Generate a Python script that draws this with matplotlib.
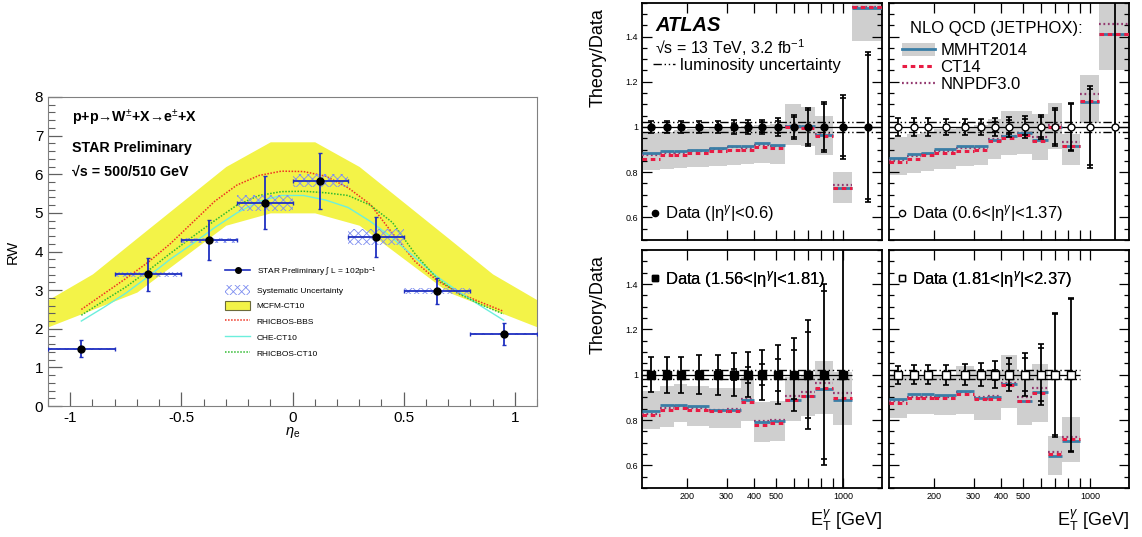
import numpy as np
import matplotlib
matplotlib.use('Agg')
import matplotlib.pyplot as plt
from matplotlib.lines import Line2D
from matplotlib.patches import Patch
from matplotlib.ticker import MultipleLocator, FixedLocator, FixedFormatter, FormatStrFormatter

plt.rcParams['font.family'] = ['Liberation Sans', 'DejaVu Sans']
plt.rcParams['mathtext.fontset'] = 'custom'
plt.rcParams['mathtext.rm'] = 'Liberation Sans'
plt.rcParams['mathtext.it'] = 'Liberation Sans:italic'
plt.rcParams['mathtext.bf'] = 'Liberation Sans:bold'
plt.rcParams['hatch.linewidth'] = 0.6

# ---------------- STAR W ratio (left) ----------------
eta = np.array([-0.95, -0.65, -0.375, -0.125, 0.125, 0.375, 0.65, 0.95])
eta_lo = np.array([-1.1, -0.8, -0.5, -0.25, 0.0, 0.25, 0.5, 0.8])
eta_hi = np.array([-0.8, -0.5, -0.25, 0.0, 0.25, 0.5, 0.8, 1.1])
rw = np.array([1.48, 3.41, 4.29, 5.26, 5.83, 4.37, 2.98, 1.86])
rw_stat = np.array([0.22, 0.42, 0.52, 0.69, 0.72, 0.52, 0.34, 0.28])
rw_sys = np.array([0.03, 0.065, 0.065, 0.21, 0.17, 0.20, 0.08, 0.03])

# MCFM-CT10 band
eta_band = [-1.1, -0.9, -0.7, -0.3, -0.1, 0.1, 0.3, 0.7, 0.9, 1.1]
mcfm_hi = [2.75, 3.42, 4.35, 6.2, 6.84, 6.84, 6.2, 4.35, 3.42, 2.75]
mcfm_lo = [2.05, 2.5, 2.95, 4.68, 5.0, 5.0, 4.68, 2.95, 2.5, 2.05]

# theory curves
eta_th = [-0.95, -0.85, -0.75, -0.65, -0.55, -0.45, -0.35, -0.25, -0.15, -0.05,
          0.05, 0.15, 0.25, 0.35, 0.45, 0.55, 0.65, 0.75, 0.85, 0.95]
rhicbos_bbs = [2.50, 2.90, 3.30, 3.72, 4.20, 4.75, 5.30, 5.72, 5.97, 6.08,
               6.07, 5.95, 5.65, 5.22, 4.47, 3.75, 3.25, 2.92, 2.68, 2.45]
che_ct10 = [2.20, 2.55, 2.92, 3.35, 3.80, 4.20, 4.62, 5.00, 5.30, 5.45,
            5.45, 5.33, 5.14, 4.78, 4.35, 3.85, 3.35, 2.95, 2.58, 2.22]
rhicbos_ct10 = [2.35, 2.72, 3.08, 3.50, 3.95, 4.38, 4.80, 5.20, 5.45, 5.55,
                5.56, 5.52, 5.45, 5.20, 4.75, 3.95, 3.30, 2.90, 2.62, 2.38]

# ---------------- ATLAS photon ratios (right) ----------------
et_edges = np.array([125, 150, 175, 200, 250, 300, 350, 400, 470, 550, 650, 750, 900, 1100, 1500])
et_mid = np.array([137.5, 162.5, 187.5, 225, 275, 325, 375, 435, 510, 600, 700, 825, 1000, 1300])

mmht_1 = [0.886, 0.896, 0.893, 0.900, 0.909, 0.917, 0.914, 0.928, 0.919, 1.006, 1.003, 0.963, 0.731, 1.525]
ct14_1 = [0.860, 0.877, 0.877, 0.884, 0.894, 0.900, 0.897, 0.911, 0.906, 0.999, 0.996, 0.962, 0.731, 1.532]
nnpdf_1 = [0.876, 0.886, 0.884, 0.892, 0.902, 0.910, 0.906, 0.921, 0.914, 1.004, 1.000, 0.968, 0.745, 1.532]
band_lo_1 = [0.808, 0.815, 0.818, 0.822, 0.826, 0.832, 0.836, 0.840, 0.835, 0.922, 0.918, 0.877, 0.662, 1.38]
band_hi_1 = [0.975, 0.980, 0.985, 0.990, 0.995, 1.000, 1.005, 1.010, 1.015, 1.100, 1.090, 1.050, 0.800, 1.60]
err_1 = [0.026, 0.026, 0.026, 0.026, 0.027, 0.030, 0.030, 0.033, 0.040, 0.055, 0.084, 0.110, 0.140, 0.330]
stat_1 = [0.005, 0.006, 0.007, 0.008, 0.010, 0.014, 0.016, 0.022, 0.028, 0.045, 0.075, 0.100, 0.130, 0.320]

mmht_2 = [0.864, 0.879, 0.886, 0.904, 0.915, 0.918, 0.943, 0.962, 0.974, 0.944, 1.001, 0.918, 1.111, 1.412]
ct14_2 = [0.845, 0.860, 0.874, 0.886, 0.893, 0.899, 0.937, 0.950, 0.965, 0.937, 0.998, 0.918, 1.115, 1.410]
nnpdf_2 = [0.855, 0.870, 0.880, 0.895, 0.905, 0.908, 0.945, 0.958, 0.975, 0.955, 1.010, 0.935, 1.145, 1.456]
band_lo_2 = [0.786, 0.797, 0.804, 0.816, 0.828, 0.834, 0.860, 0.877, 0.882, 0.852, 0.904, 0.830, 1.018, 1.251]
band_hi_2 = [0.955, 0.969, 0.977, 0.991, 1.000, 1.008, 1.035, 1.070, 1.070, 1.057, 1.104, 0.970, 1.228, 1.60]
err_2 = [0.042, 0.038, 0.038, 0.036, 0.036, 0.035, 0.040, 0.045, 0.050, 0.055, 0.082, 0.106, 0.180, 0.700]
stat_2 = [0.005, 0.006, 0.008, 0.010, 0.012, 0.015, 0.022, 0.030, 0.036, 0.045, 0.075, 0.100, 0.170, 0.700]

mmht_3 = [0.838, 0.865, 0.868, 0.861, 0.846, 0.846, 0.887, 0.790, 0.794, 0.890, 0.907, 0.938, 0.890]
ct14_3 = [0.820, 0.846, 0.853, 0.846, 0.838, 0.841, 0.878, 0.780, 0.787, 0.887, 0.907, 0.940, 0.897]
nnpdf_3 = [0.826, 0.852, 0.860, 0.852, 0.845, 0.848, 0.893, 0.796, 0.800, 0.905, 0.925, 0.963, 0.917]
band_lo_3 = [0.761, 0.769, 0.789, 0.775, 0.764, 0.764, 0.794, 0.703, 0.706, 0.795, 0.816, 0.827, 0.780]
band_hi_3 = [0.926, 0.948, 0.960, 0.948, 0.941, 0.941, 0.988, 0.878, 0.883, 0.990, 1.000, 1.060, 1.012]
err_3 = [0.078, 0.080, 0.080, 0.085, 0.088, 0.095, 0.100, 0.110, 0.130, 0.160, 0.240, 0.400, 0.800]
stat_3 = [0.010, 0.010, 0.012, 0.015, 0.020, 0.025, 0.035, 0.045, 0.070, 0.107, 0.190, 0.370, 0.800]

mmht_4 = [0.893, 0.916, 0.914, 0.909, 0.927, 0.897, 0.900, 0.960, 0.885, 0.922, 0.640, 0.709]
ct14_4 = [0.875, 0.897, 0.897, 0.897, 0.916, 0.893, 0.894, 0.956, 0.882, 0.919, 0.648, 0.714]
nnpdf_4 = [0.882, 0.902, 0.900, 0.902, 0.922, 0.900, 0.905, 0.962, 0.902, 0.941, 0.658, 0.725]
band_lo_4 = [0.809, 0.828, 0.828, 0.820, 0.828, 0.802, 0.799, 0.853, 0.780, 0.790, 0.559, 0.614]
band_hi_4 = [0.995, 0.995, 0.995, 0.995, 1.040, 1.022, 1.019, 1.088, 1.015, 1.048, 0.728, 0.812]
err_4 = [0.040, 0.042, 0.042, 0.044, 0.046, 0.051, 0.060, 0.073, 0.095, 0.135, 0.273, 0.340]
stat_4 = [0.005, 0.006, 0.008, 0.010, 0.012, 0.020, 0.022, 0.047, 0.073, 0.117, 0.268, 0.335]

eta_ranges = [r'|η$^{\gamma}$|<0.6', r'0.6<|η$^{\gamma}$|<1.37',
              r'1.56<|η$^{\gamma}$|<1.81', r'1.81<|η$^{\gamma}$|<2.37']
lumi_unc = 0.021

yellow = '#f3f348'
c_mmht = '#3a7ea6'
c_ct14 = '#e81c44'
c_nnpdf = '#93386f'
c_band = '#cfcfcf'

fig = plt.figure(figsize=(11.42, 5.37), dpi=100)

# ===== left panel =====
ax = fig.add_axes([48 / 1142, 1 - 406 / 537, 489 / 1142, 309 / 537])
ax.fill_between(eta_band, mcfm_lo, mcfm_hi, color=yellow, lw=0, zorder=1)
ax.plot(eta_th, rhicbos_bbs, color='#ee3322', ls=(0, (1, 1)), lw=1.1, zorder=3)
ax.plot(eta_th, che_ct10, color='#6cefdc', lw=1.0, zorder=3)
ax.plot(eta_th, rhicbos_ct10, color='#2fba2f', ls=(0, (1, 1)), lw=1.1, zorder=3)
ax.bar(eta_lo, 2 * rw_sys, bottom=rw - rw_sys, width=eta_hi - eta_lo, align='edge',
       facecolor='none', edgecolor='#7f8ff0', hatch='xxxx', lw=0, zorder=4)
ax.errorbar(eta, rw, xerr=[eta - eta_lo, eta_hi - eta], yerr=rw_stat, fmt='o', color='#1f2fc0',
            mfc='k', mec='k', ms=5, elinewidth=1.3, capsize=1.5, zorder=5)
ax.set_xlim(-1.1, 1.1)
ax.set_ylim(0, 8)
ax.xaxis.set_major_locator(MultipleLocator(0.5))
ax.xaxis.set_minor_locator(MultipleLocator(0.1))
ax.yaxis.set_major_locator(MultipleLocator(1))
ax.yaxis.set_minor_locator(MultipleLocator(0.2))
ax.xaxis.set_major_formatter(FormatStrFormatter('%g'))
ax.tick_params(which='both', direction='in', colors='#606060', labelcolor='k', labelsize=11)
ax.tick_params(which='major', length=10, width=0.9)
ax.tick_params(which='minor', length=5, width=0.8)
for s in ax.spines.values():
    s.set_color('#808080')
ax.set_ylabel('RW', fontsize=10.5)
ax.yaxis.set_label_coords(-0.058, 0.5)
ax.set_xlabel(r'$\eta_{\rm e}$', fontsize=10.5)
ax.xaxis.set_label_coords(0.5, -0.06)
ax.text(0.049, 0.932, 'p+p→W$^{\\pm}$+X→e$^{\\pm}$+X', transform=ax.transAxes,
        fontsize=10.3, weight='bold', va='center')
ax.text(0.049, 0.835, 'STAR Preliminary', transform=ax.transAxes, fontsize=10.3, weight='bold',
        va='center')
ax.text(0.049, 0.757, '√s = 500/510 GeV', transform=ax.transAxes, fontsize=10.3,
        weight='bold', va='center')
star_handles = [
    Line2D([], [], color='#1f2fc0', marker='o', mfc='k', mec='k', ms=4, lw=1.2),
    Patch(facecolor='none', edgecolor='#7f8ff0', hatch='xxxx', lw=0),
    Patch(facecolor=yellow, edgecolor='#6b6b3a', lw=0.8),
    Line2D([], [], color='#ee3322', ls=(0, (1, 1)), lw=1.1),
    Line2D([], [], color='#6cefdc', lw=1.0),
    Line2D([], [], color='#2fba2f', ls=(0, (1, 1)), lw=1.1),
]
star_labels = [r'STAR Preliminary $\int$ L = 102pb$^{-1}$', 'Systematic Uncertainty', 'MCFM-CT10',
               'RHICBOS-BBS', 'CHE-CT10', 'RHICBOS-CT10']
ax.legend(star_handles, star_labels, loc='upper left', bbox_to_anchor=(0.362, 0.455), frameon=False,
          fontsize=6, handlelength=3.0, handleheight=1.4, labelspacing=0.75, borderpad=0,
          borderaxespad=0, handletextpad=0.8)

# ===== ATLAS panels =====
panels = [
    (mmht_1, ct14_1, nnpdf_1, band_lo_1, band_hi_1, err_1, stat_1, 'o', 'k'),
    (mmht_2, ct14_2, nnpdf_2, band_lo_2, band_hi_2, err_2, stat_2, 'o', 'w'),
    (mmht_3, ct14_3, nnpdf_3, band_lo_3, band_hi_3, err_3, stat_3, 's', 'k'),
    (mmht_4, ct14_4, nnpdf_4, band_lo_4, band_hi_4, err_4, stat_4, 's', 'w'),
]
rects = [[642 / 1142, 1 - 240 / 537, 240 / 1142, 237.3 / 537],
         [889 / 1142, 1 - 240 / 537, 240 / 1142, 237.3 / 537],
         [642 / 1142, 1 - 488 / 537, 240 / 1142, 238 / 537],
         [889 / 1142, 1 - 488 / 537, 240 / 1142, 238 / 537]]
lumi_style = (0, (6, 2, 1, 2, 1, 2))

for i, (mm, ct, nn, blo, bhi, err, stat, mk, mfc) in enumerate(panels):
    a = fig.add_axes(rects[i])
    n = len(mm)
    lo_e = et_edges[:n]
    hi_e = et_edges[1:n + 1]
    a.bar(lo_e, np.array(bhi) - np.array(blo), bottom=blo, width=hi_e - lo_e, align='edge',
          color=c_band, lw=0, zorder=1)
    xmax = et_edges[n]
    a.hlines(1.0, 125, xmax, color='k', lw=0.9, zorder=2)
    a.hlines([1 - lumi_unc, 1 + lumi_unc], 125, xmax, color='k', lw=1.0, linestyles=[lumi_style], zorder=2)
    a.hlines(nn, lo_e, hi_e, color=c_nnpdf, lw=1.6, linestyles=[(0, (0.8, 1.2))], zorder=3)
    a.hlines(mm, lo_e, hi_e, color=c_mmht, lw=2.0, zorder=4)
    a.hlines(ct, lo_e, hi_e, color=c_ct14, lw=2.2, linestyles=[(0, (1.5, 1.2))], zorder=5)
    ratio = np.ones(n)
    a.errorbar(et_mid[:n], ratio, yerr=err, fmt='none', ecolor='k', elinewidth=1.3, capsize=2.5,
               capthick=1.2, zorder=6)
    a.errorbar(et_mid[:n], ratio, yerr=stat, fmt='none', ecolor='k', elinewidth=0, capsize=2.5,
               capthick=1.2, zorder=6)
    a.plot(et_mid[:n], ratio, ls='none', marker=mk, ms=5.5 if mk == 's' else 5, mfc=mfc, mec='k',
           mew=1.0, zorder=7)

    a.set_xscale('log')
    a.set_xlim(125, 1500)
    a.set_ylim(0.5, 1.55)
    a.xaxis.set_major_locator(FixedLocator([200, 300, 400, 500, 600, 700, 800, 900, 1000]))
    a.xaxis.set_major_formatter(FixedFormatter(['200', '300', '400', '500', '', '', '', '', '1000']))
    a.xaxis.set_minor_locator(FixedLocator([]))
    a.yaxis.set_major_locator(MultipleLocator(0.2))
    a.yaxis.set_minor_locator(MultipleLocator(0.05))
    a.yaxis.set_major_formatter(FormatStrFormatter('%g'))
    a.tick_params(which='both', direction='in', top=True, right=True, labelsize=6.5, pad=3, width=0.9)
    a.tick_params(which='major', length=7)
    a.tick_params(which='minor', length=3.5)
    for s in a.spines.values():
        s.set_linewidth(1.3)
    if i % 2 == 1:
        a.tick_params(labelleft=False)
    if i < 2:
        a.tick_params(labelbottom=False)
    else:
        a.set_xlabel(r'E$_{\rm T}^{\gamma}$ [GeV]', fontsize=13, loc='right')
        a.xaxis.set_label_coords(1.0, -0.085)
    if i % 2 == 0:
        a.set_ylabel('Theory/Data', fontsize=13)
        a.yaxis.set_label_coords(-0.146, 0.77)

    dleg = a.legend([Line2D([], [], ls='none', marker=mk, ms=4.5, mfc=mfc, mec='k')],
                    ['Data (' + eta_ranges[i] + ')'], loc='center left',
                    bbox_to_anchor=(0.035, 0.11 if i < 2 else 0.878), frameon=False, fontsize=12,
                    handlelength=0.6, handletextpad=0.3, borderpad=0, borderaxespad=0)
    a.add_artist(dleg)

    if i == 0:
        a.text(0.054, 0.906, 'ATLAS', transform=a.transAxes, fontsize=14.5, weight='bold',
               style='italic', va='center')
        a.text(0.054, 0.812, '√s = 13 TeV, 3.2 fb$^{-1}$', transform=a.transAxes, fontsize=11.5,
               va='center')
        a.legend([Line2D([], [], color='k', ls=lumi_style, lw=1.0)], ['luminosity uncertainty'],
                 loc='center left', bbox_to_anchor=(0.046, 0.734), frameon=False, fontsize=12,
                 handlelength=1.3, handletextpad=0.3, borderpad=0, borderaxespad=0)
    if i == 1:
        a.text(0.0875, 0.893, 'NLO QCD (JETPHOX):', transform=a.transAxes, fontsize=12, va='center')
        th_handles = [(Patch(facecolor=c_band, lw=0), Line2D([], [], color=c_mmht, lw=2.0)),
                      Line2D([], [], color=c_ct14, lw=2.2, ls=(0, (1.5, 1.2))),
                      Line2D([], [], color=c_nnpdf, lw=1.6, ls=(0, (0.8, 1.2)))]
        a.legend(th_handles, ['MMHT2014', 'CT14', 'NNPDF3.0'], loc='center left',
                 bbox_to_anchor=(0.054, 0.726), frameon=False, fontsize=12, handlelength=2.0,
                 handleheight=0.8, labelspacing=0.12, handletextpad=0.3, borderpad=0, borderaxespad=0)

fig.savefig('out.png', dpi=100)
